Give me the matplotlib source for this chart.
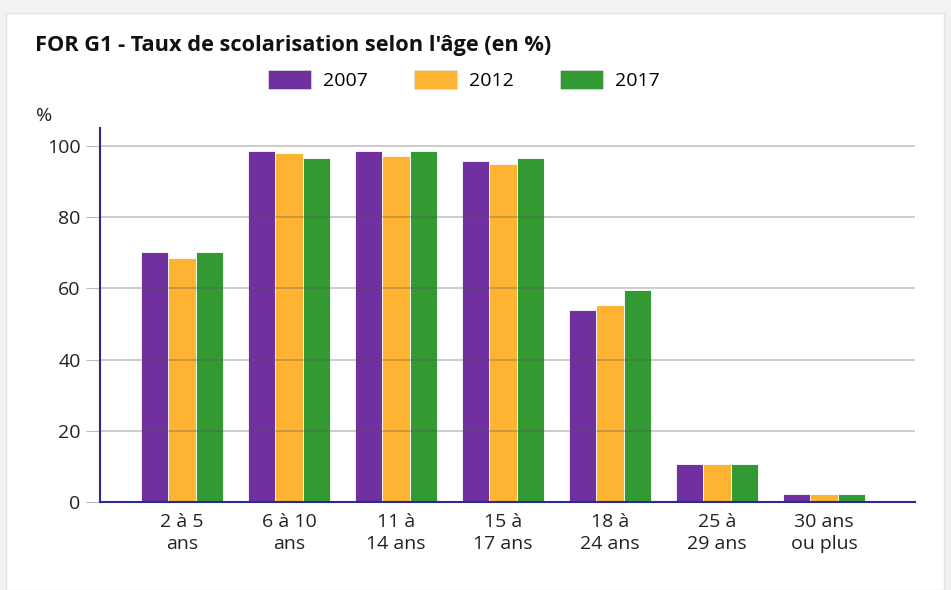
import matplotlib
matplotlib.use("Agg")
import matplotlib.pyplot as plt
from matplotlib.patches import Patch, Rectangle
import numpy as np

plt.rcParams["font.family"] = ["Open Sans", "DejaVu Sans"]

categories = ["2 à 5\nans", "6 à 10\nans", "11 à\n14 ans", "15 à\n17 ans",
              "18 à\n24 ans", "25 à\n29 ans", "30 ans\nou plus"]
years = ["2007", "2012", "2017"]
v2007 = [70.3, 98.6, 98.6, 95.8, 54.0, 10.7, 2.2]
v2012 = [68.5, 98.1, 97.2, 95.0, 55.4, 10.7, 2.2]
v2017 = [70.3, 96.6, 98.6, 96.6, 59.6, 10.7, 2.2]
colors = ["#7030a0", "#ffb333", "#339933"]

fig = plt.figure(figsize=(9.51, 5.90), dpi=100)
fig.patch.set_facecolor("#f2f2f2")
fig.patches.append(Rectangle((6 / 951, 0), 938 / 951, 1 - 13 / 590,
                             transform=fig.transFigure, facecolor="white",
                             edgecolor="#e2e2e2", lw=1, zorder=-10))

ax = fig.add_axes([100 / 951, 1 - 502 / 590, 815 / 951, 374 / 590])
ax.set_facecolor("white")

x = np.arange(len(categories))
w = 0.258
for i, (vals, c) in enumerate(zip([v2007, v2012, v2017], colors)):
    ax.bar(x + (i - 1) * w, vals, w, color=c, edgecolor="white",
           linewidth=0.6, zorder=2)

ax.set_xlim(-0.766, 6.85)
ax.set_ylim(0, 105)
ax.set_yticks([0, 20, 40, 60, 80, 100])
ax.set_xticks(x)
ax.set_xticklabels(categories, fontsize=14, color="#222222", linespacing=1.25)
ax.tick_params(axis="x", length=0, pad=8)
ax.tick_params(axis="y", length=10, color="#bbbbbb", labelsize=14,
               labelcolor="#222222", pad=4)
ax.grid(axis="y", color="#555555", alpha=0.35, lw=1.2, zorder=3)
ax.set_axisbelow(False)

for s in ["top", "right"]:
    ax.spines[s].set_visible(False)
for s in ["left", "bottom"]:
    ax.spines[s].set_color("#2b2a8f")
    ax.spines[s].set_linewidth(1.5)
    ax.spines[s].set_zorder(4)

fig.text(35 / 951, 1 - 45 / 590, "FOR G1 - Taux de scolarisation selon l'âge (en %)",
         fontsize=15.7, fontweight="bold", va="center", color="#111111")
fig.text(36 / 951, 1 - 116 / 590, "%", fontsize=14, va="center", color="#222222")

handles = [Patch(facecolor=c, edgecolor="#dddddd", lw=0.5) for c in colors]
fig.legend(handles, years, loc="center", bbox_to_anchor=(464 / 951, 1 - 80 / 590),
           ncol=3, frameon=False, fontsize=14, handlelength=2.2,
           handleheight=1.1, handletextpad=0.6, columnspacing=2.4)

fig.savefig("out.png", dpi=100, facecolor=fig.get_facecolor())
